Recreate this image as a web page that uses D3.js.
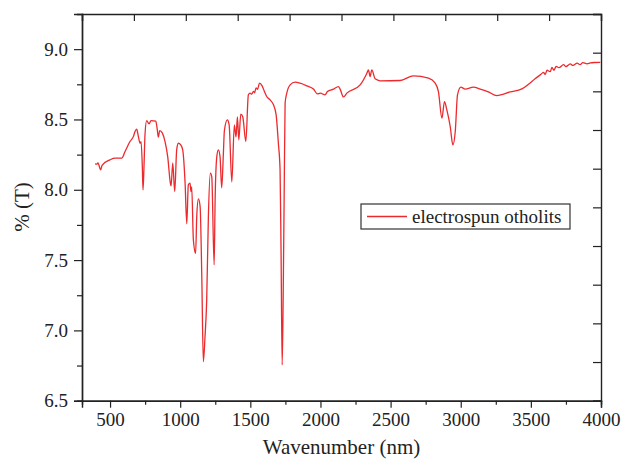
<!DOCTYPE html>
<html>
<head>
<meta charset="utf-8">
<script src="https://cdnjs.cloudflare.com/ajax/libs/d3/7.8.5/d3.min.js"></script>
<style>
  body { margin: 0; background: #fff; }
  svg text { font-family: "Liberation Serif", "Times New Roman", serif; fill: #222; }
</style>
</head>
<body>
<div id="chart"></div>
<script>
// FTIR spectrum values
var wavenumber = [393, 405, 414, 433, 443, 500, 535, 583, 607, 642, 666, 678, 690, 702, 714, 721, 730, 735, 742, 749,
  761, 778, 792, 826, 837, 844, 854, 873, 892, 911, 930, 935, 947, 961, 975, 987, 1004, 1018, 1035, 1047,
  1058, 1070, 1077, 1082, 1094, 1110, 1118, 1130, 1142, 1154, 1165, 1177, 1189, 1201, 1215, 1225, 1242, 1249, 1261, 1272,
  1284, 1296, 1308, 1315, 1336, 1349, 1368, 1386, 1398, 1408, 1418, 1432, 1446, 1468, 1486, 1498, 1510, 1522, 1530, 1541,
  1552, 1565, 1584, 1600, 1617, 1641, 1665, 1684, 1700, 1712, 1719, 1727, 1734, 1741, 1748, 1760, 1784, 1819, 1855, 1903,
  1950, 1978, 1998, 2033, 2050, 2093, 2128, 2140, 2164, 2188, 2283, 2331, 2342, 2354, 2366, 2390, 2426, 2568, 2663, 2770,
  2818, 2841, 2866, 2884, 2901, 2925, 2944, 2961, 2977, 3001, 3032, 3091, 3139, 3196, 3258, 3353, 3436, 3483, 3530, 3567,
  3590, 3602, 3615, 3638, 3650, 3665, 3680, 3700, 3733, 3750, 3781, 3800, 3830, 3852, 3870, 3900, 3924, 3950, 3995];

var transmittance = [8.184, 8.182, 8.191, 8.142, 8.174, 8.213, 8.225, 8.225, 8.272, 8.343, 8.378, 8.414, 8.431, 8.378, 8.331, 8.343, 8.165, 7.999, 8.165, 8.390,
  8.492, 8.469, 8.492, 8.488, 8.426, 8.374, 8.421, 8.403, 8.343, 8.236, 8.047, 8.028, 8.191, 7.987, 8.284, 8.331, 8.319, 8.284, 8.047, 7.758,
  8.035, 8.047, 7.987, 8.021, 7.644, 7.548, 7.809, 7.935, 7.881, 7.383, 6.778, 6.956, 7.217, 7.809, 8.118, 8.094, 7.466, 7.928, 8.236, 8.284,
  8.236, 8.014, 8.260, 8.420, 8.497, 8.462, 8.056, 8.462, 8.376, 8.519, 8.355, 8.538, 8.519, 8.343, 8.675, 8.687, 8.680, 8.700, 8.690, 8.725,
  8.715, 8.758, 8.739, 8.700, 8.663, 8.639, 8.604, 8.533, 8.330, 8.142, 7.573, 6.755, 7.220, 7.930, 8.616, 8.687, 8.746, 8.765, 8.758, 8.739,
  8.716, 8.682, 8.687, 8.675, 8.698, 8.716, 8.734, 8.716, 8.660, 8.687, 8.746, 8.829, 8.853, 8.805, 8.853, 8.789, 8.775, 8.777, 8.810, 8.794,
  8.758, 8.698, 8.509, 8.627, 8.568, 8.450, 8.319, 8.414, 8.675, 8.730, 8.716, 8.730, 8.716, 8.696, 8.670, 8.696, 8.717, 8.750, 8.790, 8.817,
  8.835, 8.820, 8.850, 8.840, 8.870, 8.850, 8.878, 8.868, 8.890, 8.876, 8.895, 8.884, 8.900, 8.890, 8.904, 8.896, 8.902, 8.905, 8.906];

var xTicks = [500, 1000, 1500, 2000, 2500, 3000, 3500, 4000];
var yTicks = [6.5, 7.0, 7.5, 8.0, 8.5, 9.0];
var seriesName = "electrospun otholits";

var width = 622, height = 461;
var margin = { top: 14, right: 21, bottom: 60.3, left: 82 };
var lineColor = "#ec2a2e";

var svg = d3
  .select("#chart")
  .append("svg")
  .attr("width", width)
  .attr("height", height);

var x = d3.scaleLinear().domain([300, 4000]).range([margin.left, width - margin.right]);
var y = d3.scaleLinear().domain([6.5, 9.25]).range([height - margin.bottom, margin.top]);

var points = wavenumber.map(function(w, i) {
  return [w, transmittance[i]];
});

// spectrum, monotone curve keeps the peaks on the read values
svg
  .append("path")
  .datum(points)
  .attr("fill", "none")
  .attr("stroke", lineColor)
  .attr("stroke-width", 1.3)
  .attr("stroke-linejoin", "round")
  .attr("d", d3.line()
    .curve(d3.curveMonotoneX)
    .x(function(d) { return x(d[0]); })
    .y(function(d) { return y(d[1]); }));

// bottom axis: labelled majors and minor ticks
var minorX = d3.range(250, 4001, 500).filter(function(v) { return v > 300; });
var bottom = svg
  .append("g")
  .attr("transform", "translate(0," + y.range()[0] + ")");
bottom.call(d3.axisBottom(x).tickValues(xTicks).tickSize(7).tickPadding(5).tickFormat(d3.format("d")));
bottom.append("g").call(d3.axisBottom(x).tickValues(minorX).tickSize(4).tickFormat(""));

// left axis
var minorY = [6.75, 7.25, 7.75, 8.25, 8.75];
var left = svg
  .append("g")
  .attr("transform", "translate(" + margin.left + ",0)");
left.call(d3.axisLeft(y).tickValues(yTicks).tickSize(8).tickPadding(6).tickFormat(d3.format(".1f")));
left.append("g").call(d3.axisLeft(y).tickValues(minorY).tickSize(5).tickFormat(""));

// top and right frame with inward ticks, no labels
var topScale = d3.scaleLinear().domain([0, 10]).range(x.range());
svg
  .append("g")
  .attr("transform", "translate(0," + margin.top + ")")
  .call(d3.axisBottom(topScale).ticks(10).tickSize(7).tickFormat(""));
var rightScale = d3.scaleLinear().domain([0, 10]).range(y.range());
svg
  .append("g")
  .attr("transform", "translate(" + (width - margin.right) + ",0)")
  .call(d3.axisLeft(rightScale).ticks(10).tickSize(8).tickFormat(""));

svg.selectAll(".domain").attr("stroke", "#222").attr("stroke-width", 1.4);
svg.selectAll(".tick line").attr("stroke", "#222").attr("stroke-width", 1.2);
svg.selectAll(".tick text").style("font-size", "19px").attr("fill", "#222");

// axis titles
svg
  .append("text")
  .attr("x", (x.range()[0] + x.range()[1]) / 2)
  .attr("y", 454)
  .attr("text-anchor", "middle")
  .style("font-size", "21px")
  .text("Wavenumber (nm)");
svg
  .append("text")
  .attr("transform", "translate(29," + 207 + ") rotate(-90)")
  .attr("text-anchor", "middle")
  .style("font-size", "21px")
  .text("% (T)");

// legend
var legend = svg.append("g").attr("transform", "translate(361,204)");
legend
  .append("rect")
  .attr("width", 209)
  .attr("height", 25)
  .attr("fill", "#fff")
  .attr("stroke", "#333")
  .attr("stroke-width", 1.2);
legend
  .append("line")
  .attr("x1", 6)
  .attr("x2", 46)
  .attr("y1", 12.5)
  .attr("y2", 12.5)
  .attr("stroke", lineColor)
  .attr("stroke-width", 1.3);
legend
  .append("text")
  .attr("x", 51)
  .attr("y", 19)
  .style("font-size", "19px")
  .text(seriesName);
</script>
</body>
</html>
